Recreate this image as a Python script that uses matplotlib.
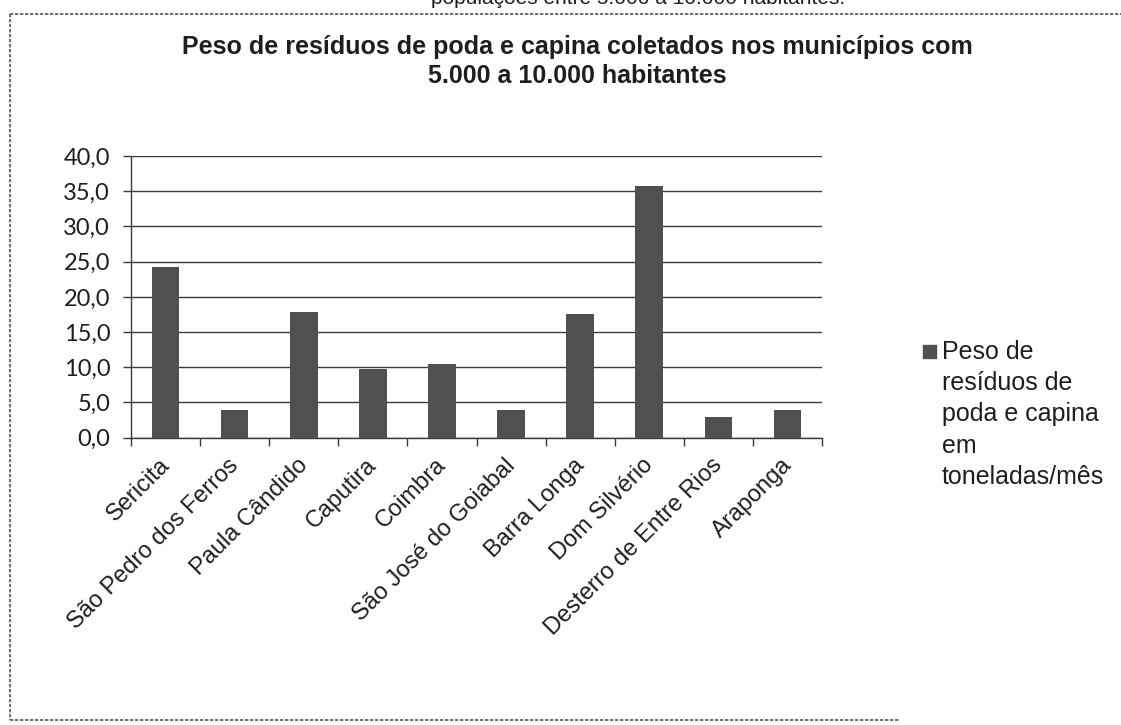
import matplotlib.pyplot as plt
from matplotlib.lines import Line2D
from matplotlib.patches import Rectangle
from matplotlib.transforms import ScaledTranslation

municipios = ["Sericita", "São Pedro dos Ferros", "Paula Cândido", "Caputira", "Coimbra",
              "São José do Goiabal", "Barra Longa", "Dom Silvério", "Desterro de Entre Rios", "Araponga"]
peso = [24.2, 3.9, 17.8, 9.8, 10.4, 4.0, 17.6, 35.7, 2.9, 4.0]
yticks = [0, 5, 10, 15, 20, 25, 30, 35, 40]
serie = "Peso de\nresíduos de\npoda e capina\nem\ntoneladas/mês"

txt = "#1e1e1e"
fig = plt.figure(figsize=(11.21, 7.25), dpi=100)
ax = fig.add_axes([131/1121, 1 - 437.7/725, (822 - 131)/1121, (437.7 - 156)/725])

x = range(len(municipios))
ax.bar(x, peso, width=0.4, color="#505050", zorder=3)
ax.set_xlim(-0.5, len(municipios) - 0.5)
ax.set_ylim(0, 40)

ax.set_yticks(yticks)
ax.set_yticklabels([f"{v:.1f}".replace(".", ",") for v in yticks],
                   fontsize=17, family="Lato", color=txt)
ax.yaxis.grid(True, color="#3a3a3a", linewidth=1.0, zorder=1)
ax.tick_params(axis="y", length=6, width=1.0, color="#3a3a3a", pad=9)

# categorias nos centros, marcas entre elas
ax.set_xticks(list(x))
ax.set_xticklabels(municipios, rotation=45, ha="right", rotation_mode="anchor",
                   fontsize=17, family="Liberation Sans", color=txt)
ax.tick_params(axis="x", length=0, pad=12)
shift = ScaledTranslation(-7/100, 0, fig.dpi_scale_trans)
for lab in ax.get_xticklabels():
    lab.set_transform(lab.get_transform() + shift)
ax.set_xticks([i - 0.5 for i in range(len(municipios) + 1)], minor=True)
ax.tick_params(axis="x", which="minor", length=6, width=1.0, color="#3a3a3a")

for s in ["top", "right"]:
    ax.spines[s].set_visible(False)
for s in ["left", "bottom"]:
    ax.spines[s].set_color("#3a3a3a")
    ax.spines[s].set_linewidth(1.0)

# titulo
fig.text(0.515, 1 - 47/725, "Peso de resíduos de poda e capina coletados nos municípios com",
         ha="center", va="center", fontsize=18, fontweight="bold", family="Liberation Sans", color=txt)
fig.text(0.515, 1 - 76/725, "5.000 a 10.000 habitantes",
         ha="center", va="center", fontsize=18, fontweight="bold", family="Liberation Sans", color=txt)
fig.text(0.569, 1 - 8/725, "populações entre 5.000 a 10.000 habitantes.",
         ha="center", va="bottom", fontsize=15, family="Liberation Sans", color=txt)

# legenda
fig.add_artist(Rectangle((923/1121, 1 - 358/725), 13/1121, 13/725,
                         transform=fig.transFigure, color="#505050"))
fig.text(942/1121, 1 - 340/725, serie, ha="left", va="top", fontsize=18,
         family="Liberation Sans", color=txt, linespacing=1.38)

# moldura do grafico
kw = dict(transform=fig.transFigure, color="#555555", linewidth=1.2, linestyle=(0, (2, 1)))
fig.add_artist(Line2D([10/1121, 1], [1 - 14/725, 1 - 14/725], **kw))
fig.add_artist(Line2D([10/1121, 10/1121], [1 - 14/725, 1 - 720/725], **kw))
fig.add_artist(Line2D([10/1121, 900/1121], [1 - 720/725, 1 - 720/725], **kw))

fig.savefig("out.png", dpi=100)
